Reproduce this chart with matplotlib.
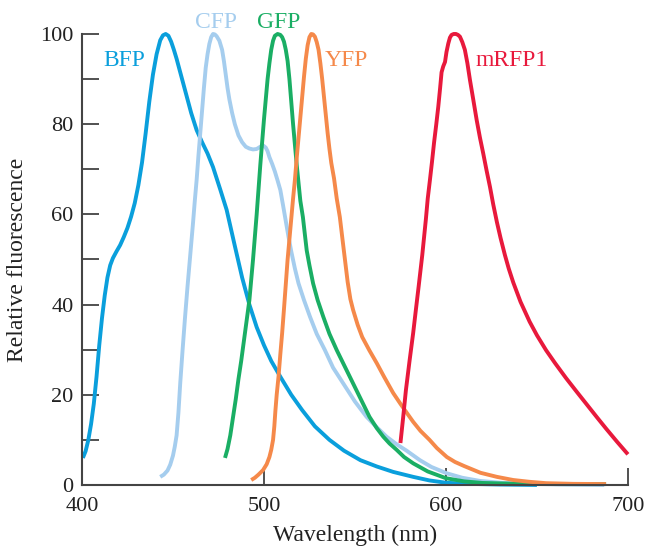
import numpy as np
import matplotlib.pyplot as plt
from matplotlib.ticker import MultipleLocator

# BFP
bfp_nm = [400.5, 402, 403.5, 405, 406.5, 408, 409.5, 411, 412.5, 414, 415.5, 417, 419, 421,
          423, 425, 427, 429, 431, 433, 435, 437, 439, 441, 443, 444.5, 446, 447.5, 449,
          450.5, 452, 454, 456, 458, 460, 463, 466, 469, 472, 476, 479.5, 484, 488, 492,
          496, 500, 504, 509, 515, 521, 528, 536, 544, 553, 562, 571, 582, 591, 600, 612,
          630, 650]
bfp_v = [6, 7.5, 10, 13.5, 18, 24, 31, 37, 42, 46, 48.7, 50.3, 51.8, 53.2,
         55, 57, 59.5, 62.5, 66.5, 71.5, 78, 85, 91, 95.5, 98.6, 99.7, 100, 99.6, 98.3,
         96.5, 94.5, 91.5, 88.5, 85.5, 82.5, 78.7, 76, 73.5, 70.5, 65.5, 61, 53, 46, 40,
         35, 31, 27.5, 24, 20, 16.6, 13, 10, 7.6, 5.5, 4.1, 2.9, 1.8, 1.0, 0.5, 0.25,
         0.1, 0]

# CFP
cfp_nm = [443, 445, 447, 448.5, 450, 451, 452, 453, 454, 455.3, 456.6, 458, 459.5, 461, 462,
          463, 464, 465, 466, 467, 468, 469, 470, 471, 472, 473, 474, 475.5, 477, 478, 479,
          480, 481, 482.5, 484, 486, 488, 490, 492, 494, 496, 498, 499.5, 501, 502, 503,
          504.5, 506, 507.5, 509, 510.5, 512, 513.5, 515, 517, 519, 522, 525.3, 529, 533.5,
          538, 543.6, 550, 556.4, 562, 567.4, 573, 578.4, 585.7, 592, 600.4, 609, 618.7,
          630, 645, 665, 687]
cfp_v = [1.8, 2.3, 3.2, 4.5, 6.5, 8.5, 11, 16, 22.6, 30, 37, 44, 51, 58, 63,
         67.6, 73, 78, 83, 88, 92.5, 95.5, 97.8, 99.3, 100, 99.9, 99.5, 98.5, 96.5, 94, 91,
         88, 85.5, 82.5, 80, 77.5, 76, 75, 74.6, 74.4, 74.5, 75, 75.3, 74.8, 74, 72.7,
         71.2, 69.5, 67.5, 65.4, 62, 58.5, 55, 51.8, 48, 44.7, 41, 37.3, 33.5, 29.9,
         26, 22.5, 18.5, 15.1, 12.8, 10.7, 9, 7.6, 5.5, 4.0, 2.6, 1.6, 0.9,
         0.5, 0.25, 0.1, 0]

# GFP
gfp_nm = [478.6, 480, 481.5, 483, 484.5, 486, 487.5, 489, 490.5, 492, 493, 494, 495, 496,
          497, 498, 499, 500, 501, 502, 503, 504, 505, 506, 507.5, 509, 510, 511, 512, 513,
          514, 515, 516, 517, 518, 519, 520, 521.4, 522.5, 523.5, 525, 527, 529.5, 532.6,
          536, 540, 544.5, 549, 553.5, 558, 562, 565.6, 569, 572.9, 577, 582, 590, 600,
          610, 620, 640, 660, 688]
gfp_v = [6, 8, 11, 15, 19, 23.5, 27.5, 32, 36.5, 41, 45.5, 50, 55, 60,
         65.5, 71, 76, 81, 85.5, 90, 93.5, 96.5, 98.5, 99.6, 100, 99.8, 99.3, 98.3, 96.5, 94,
         90, 85, 80, 75.5, 71, 67, 63, 59.4, 55.5, 52, 48.7, 44.7, 41, 37.3,
         33.5, 29.9, 26.2, 22.5, 18.8, 15.1, 12.6, 10.7, 9.2, 7.8, 6.2, 4.8, 3.0, 1.5,
         0.8, 0.45, 0.25, 0.2, 0.2]

# YFP
yfp_nm = [493, 495, 497, 499.5, 501.5, 503, 504, 505, 505.7, 506.3, 507, 508, 509, 510, 511,
          512, 513, 514, 515, 516, 517, 518, 519, 520, 521, 522, 523, 524, 525, 526, 527,
          528, 529, 530, 531, 532, 533, 534, 535, 536, 537, 538.5, 540, 541.7, 543, 544.5,
          546, 547.5, 549, 551.5, 554, 558, 562, 566, 571, 575, 579, 582, 586, 591, 595,
          600.5, 605, 610, 619, 628, 637, 646, 655, 670, 688]
yfp_v = [1.1, 1.6, 2.3, 3.3, 4.6, 6.2, 7.8, 10, 13, 16.5, 20, 24, 29, 33.7, 39,
         44.5, 50, 54.5, 59, 63.5, 67.6, 72.5, 77, 81.5, 86, 90.5, 94.5, 97.5, 99.3, 100, 99.9,
         99.4, 98.2, 96.5, 93.5, 90, 86, 82, 78, 74.5, 71.4, 68, 63.5, 59.4, 55, 50,
         45, 41.2, 38.8, 35.5, 32.8, 29.8, 27, 24, 20.4, 18, 15.7, 14, 12, 10, 8.2,
         6.2, 5.1, 4.2, 2.7, 1.8, 1.1, 0.7, 0.4, 0.25, 0.2]

# mRFP1
rfp_nm = [575, 576.5, 578, 580, 582, 583.5, 585, 586, 587, 588, 589, 590, 591.2, 592.3, 593.5,
          594.7, 595.8, 596.8, 597.6, 598.5, 599.5, 600.3, 601.3, 602.2, 603.1, 604.3, 605.5,
          606.6, 607.7, 609, 610.4, 611.8, 613.2, 615, 616.9, 618.7, 620.5, 622.3, 624.2,
          626, 628, 630, 632.4, 634.5, 637, 641, 646, 650, 655, 660, 666, 672, 677.5, 683,
          688, 694, 700]
rfp_v = [9.3, 15, 21, 27.5, 33.7, 38.9, 44, 47.5, 51, 55, 59, 63.5, 67.6, 71.5, 76,
         80, 83.9, 88, 91.5, 92.8, 93.8, 96, 97.9, 99.2, 99.8, 100, 100,
         99.8, 99.4, 98.2, 96.5, 93.5, 89.8, 85.5, 80.9, 77, 73.5, 69.8, 66.1,
         62.2, 58.3, 54.8, 51, 48, 44.9, 40.6, 36.2, 33.2, 29.9, 27, 23.7, 20.6, 17.8, 15,
         12.5, 9.6, 6.8]

names = ['BFP', 'CFP', 'GFP', 'YFP', 'mRFP1']
colors = ['#0a9fdc', '#a5cdee', '#1aae64', '#f5894a', '#e8193c']
label_pos = [(412, 93, 'left'), (473.5, 101.3, 'center'), (508, 101.3, 'center'),
             (533.5, 93, 'left'), (616.5, 93, 'left')]

plt.rcParams['font.family'] = 'Liberation Serif'
plt.rcParams['font.size'] = 16

fig = plt.figure(figsize=(6.48, 5.48), dpi=100)
ax = fig.add_axes([0.1265, 0.115, 0.8425, 0.823])

series = [(bfp_nm, bfp_v), (cfp_nm, cfp_v), (gfp_nm, gfp_v), (yfp_nm, yfp_v), (rfp_nm, rfp_v)]
for (x, y), c in zip(series, colors):
    ax.plot(x, y, color=c, lw=2.8, solid_capstyle='butt', solid_joinstyle='round', clip_on=False)

for n, c, (lx, ly, ha) in zip(names, colors, label_pos):
    ax.text(lx, ly, n, color=c, ha=ha, va='baseline', fontsize=17)

ax.set_xlim(400, 700)
ax.set_ylim(0, 100)
ax.spines['top'].set_visible(False)
ax.spines['right'].set_visible(False)
for s in ['left', 'bottom']:
    ax.spines[s].set_linewidth(1.5)
    ax.spines[s].set_color('#444444')
ax.set_xticks([400, 500, 600, 700])
ax.set_yticks(np.arange(0, 101, 20))
ax.yaxis.set_minor_locator(MultipleLocator(10))
ax.tick_params(axis='both', which='both', direction='in', length=12, width=1.2,
               color='#333333', labelcolor='#222222', labelsize=16)
ax.tick_params(axis='y', pad=6)
ax.tick_params(axis='x', pad=9)

ax.set_xlabel('Wavelength (nm)', fontsize=17, color='#222222', labelpad=6)
ax.set_ylabel('Relative fluorescence', fontsize=17, color='#222222', labelpad=9)

fig.savefig('out.png', dpi=100)
